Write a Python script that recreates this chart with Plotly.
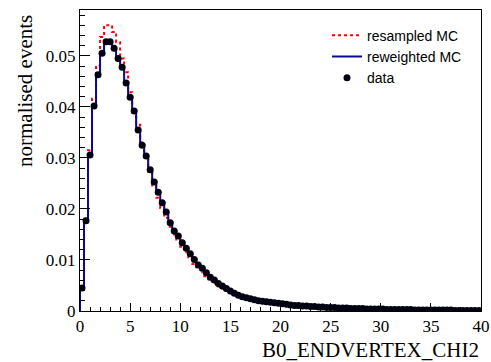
import numpy as np
import plotly.graph_objects as go

# histogram binning: 100 bins from 0 to 40
x_min, x_max, n_bins = 0.0, 40.0, 100

data_vals = [
    0.0045, 0.0177, 0.0306, 0.0402, 0.0463, 0.0505, 0.0528, 0.0528, 0.0515, 0.0495,
    0.0478, 0.0447, 0.0419, 0.0392, 0.0355, 0.0325, 0.0304, 0.0277, 0.0253, 0.0233,
    0.0212, 0.0194, 0.0173, 0.0157, 0.0147, 0.0134, 0.0123, 0.0112, 0.0101, 0.0090,
    0.0084, 0.0075, 0.0066, 0.0061, 0.0054, 0.0049, 0.0044, 0.0039, 0.0035, 0.0031,
    0.0028, 0.0026, 0.0024, 0.0022, 0.0020, 0.0019, 0.0018, 0.0017, 0.0016, 0.0015,
    0.0014, 0.0013, 0.0012, 0.0011, 0.0011, 0.0010, 0.0010, 0.0009, 0.0009, 0.0008,
    0.0008, 0.0007, 0.0007, 0.0007, 0.0006, 0.0006, 0.0006, 0.0005, 0.0005, 0.0005,
    0.0005, 0.0004, 0.0004, 0.0004, 0.0004, 0.0004, 0.0003, 0.0003, 0.0003, 0.0003,
    0.0003, 0.0003, 0.0003, 0.0002, 0.0002, 0.0002, 0.0002, 0.0002, 0.0002, 0.0002,
    0.0002, 0.0002, 0.0002, 0.0001, 0.0001, 0.0001, 0.0001, 0.0001, 0.0001, 0.0001,
]

reweighted_vals = [
    0.0045, 0.0177, 0.0306, 0.0402, 0.0463, 0.0505, 0.0528, 0.0528, 0.0515, 0.0495,
    0.0478, 0.0447, 0.0419, 0.0392, 0.0355, 0.0325, 0.0304, 0.0277, 0.0253, 0.0233,
    0.0212, 0.0194, 0.0173, 0.0157, 0.0147, 0.0134, 0.0123, 0.0112, 0.0101, 0.0090,
    0.0084, 0.0075, 0.0066, 0.0061, 0.0054, 0.0049, 0.0044, 0.0039, 0.0035, 0.0031,
    0.0028, 0.0026, 0.0024, 0.0022, 0.0020, 0.0019, 0.0018, 0.0017, 0.0016, 0.0015,
    0.0014, 0.0013, 0.0012, 0.0011, 0.0011, 0.0010, 0.0010, 0.0009, 0.0009, 0.0008,
    0.0008, 0.0007, 0.0007, 0.0007, 0.0006, 0.0006, 0.0006, 0.0005, 0.0005, 0.0005,
    0.0005, 0.0004, 0.0004, 0.0004, 0.0004, 0.0004, 0.0003, 0.0003, 0.0003, 0.0003,
    0.0003, 0.0003, 0.0003, 0.0002, 0.0002, 0.0002, 0.0002, 0.0002, 0.0002, 0.0002,
    0.0002, 0.0002, 0.0002, 0.0001, 0.0001, 0.0001, 0.0001, 0.0001, 0.0001, 0.0001,
]

resampled_vals = [
    0.0046, 0.0181, 0.0315, 0.0416, 0.0481, 0.0537, 0.0560, 0.0560, 0.0547, 0.0527,
    0.0495, 0.0468, 0.0429, 0.0393, 0.0365, 0.0331, 0.0304, 0.0273, 0.0246, 0.0222,
    0.0202, 0.0183, 0.0165, 0.0150, 0.0138, 0.0126, 0.0115, 0.0103, 0.0092, 0.0083,
    0.0076, 0.0068, 0.0059, 0.0054, 0.0048, 0.0044, 0.0040, 0.0035, 0.0032, 0.0028,
    0.0026, 0.0024, 0.0022, 0.0021, 0.0019, 0.0018, 0.0017, 0.0016, 0.0015, 0.0014,
    0.0013, 0.0012, 0.0012, 0.0011, 0.0010, 0.0010, 0.0009, 0.0009, 0.0008, 0.0008,
    0.0007, 0.0007, 0.0007, 0.0006, 0.0006, 0.0006, 0.0005, 0.0005, 0.0005, 0.0005,
    0.0004, 0.0004, 0.0004, 0.0004, 0.0004, 0.0003, 0.0003, 0.0003, 0.0003, 0.0003,
    0.0003, 0.0003, 0.0002, 0.0002, 0.0002, 0.0002, 0.0002, 0.0002, 0.0002, 0.0002,
    0.0002, 0.0002, 0.0001, 0.0001, 0.0001, 0.0001, 0.0001, 0.0001, 0.0001, 0.0001,
]

x_title = "B0_ENDVERTEX_CHI2"
y_title = "normalised events"

edges = np.linspace(x_min, x_max, n_bins + 1)
centers = 0.5 * (edges[:-1] + edges[1:])


def step_xy(vals):
    xs = np.concatenate([[edges[0]], edges])
    ys = np.concatenate([[0.0], vals, [vals[-1]]])
    return xs, ys


fig = go.Figure()

xs, ys = step_xy(resampled_vals)
fig.add_trace(go.Scatter(x=xs, y=ys, mode="lines", line_shape="hv",
                         line=dict(color="#ff0000", width=2, dash="dot"),
                         name="resampled MC"))
xs, ys = step_xy(reweighted_vals)
fig.add_trace(go.Scatter(x=xs, y=ys, mode="lines", line_shape="hv",
                         line=dict(color="#0a0a96", width=2),
                         name="reweighted MC"))
fig.add_trace(go.Scatter(x=centers, y=data_vals, mode="markers",
                         marker=dict(color="#000010", size=7, symbol="circle"),
                         name="data"))

serif = "Liberation Serif, Times New Roman, serif"

fig.update_layout(
    width=491, height=362,
    margin=dict(l=80, r=10, t=10, b=51, autoexpand=False),
    paper_bgcolor="white", plot_bgcolor="white",
    showlegend=True,
    legend=dict(x=0.616, y=0.968, xanchor="left", yanchor="top",
                bgcolor="rgba(0,0,0,0)", borderwidth=0,
                font=dict(family="Liberation Sans, Arial, sans-serif", size=14, color="black"),
                tracegroupgap=0, itemwidth=30),
    xaxis=dict(range=[x_min, x_max], showgrid=False, zeroline=False, automargin=False,
               showline=True, linecolor="black", linewidth=1, mirror=True,
               ticks="inside", ticklen=8, tickcolor="black", dtick=5, tick0=0,
               tickfont=dict(family=serif, size=17, color="black"),
               minor=dict(ticks="inside", ticklen=4, dtick=1, tickcolor="black", showgrid=False)),
    yaxis=dict(range=[0, 0.059], showgrid=False, zeroline=False, automargin=False,
               showline=True, linecolor="black", linewidth=1, mirror=True,
               ticks="inside", ticklen=10, tickcolor="black", dtick=0.01, tick0=0,
               tickformat="~g",
               tickfont=dict(family=serif, size=17, color="black"),
               minor=dict(ticks="inside", ticklen=5, dtick=0.002, tickcolor="black", showgrid=False)),
    annotations=[
        dict(text=y_title, xref="paper", yref="paper", x=0, y=1, xanchor="center", yanchor="top",
             xshift=-55, yshift=-3, textangle=-90, showarrow=False,
             font=dict(family=serif, size=21, color="black")),
        dict(text=x_title, xref="paper", yref="paper", x=1, y=0, xanchor="right", yanchor="middle",
             yshift=-39, showarrow=False,
             font=dict(family=serif, size=21, color="black")),
    ],
)

fig.write_html("out.html", config={"displayModeBar": False},
               post_script="document.body.style.margin='0';document.body.style.overflow='hidden';")
